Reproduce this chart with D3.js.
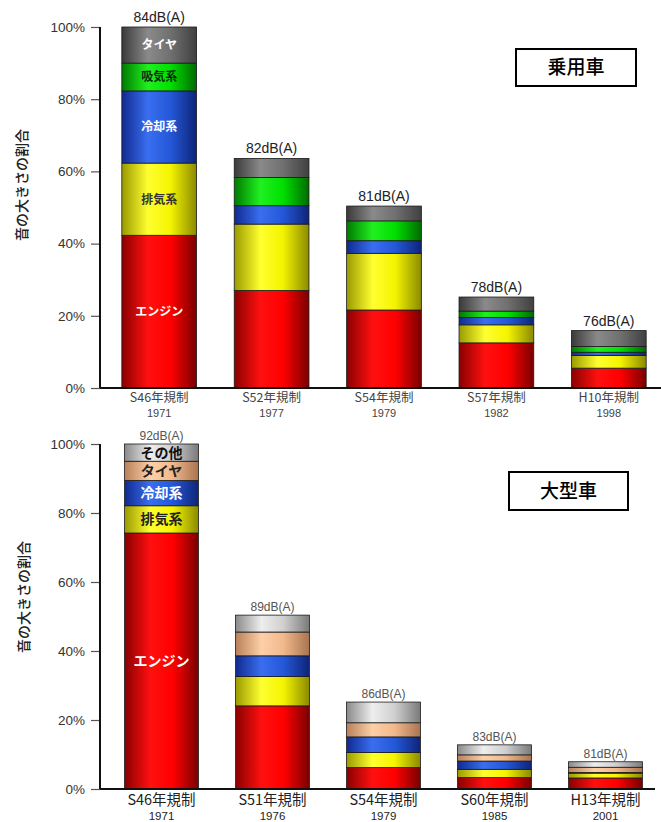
<!DOCTYPE html>
<html><head><meta charset="utf-8">
<script src="https://cdn.jsdelivr.net/npm/d3@7/dist/d3.min.js"></script>
<style>
body{margin:0;background:#fff;}
svg{display:block;font-family:"Liberation Sans",Arial,sans-serif;}
.jp{font-family:"Noto Sans CJK JP","Noto Sans CJK SC",sans-serif;}
</style></head>
<body>
<svg id="c" width="661" height="822"></svg>
<script>
// ---------- data: 乗用車 ----------
const carCategories = ["S46年規制","S52年規制","S54年規制","S57年規制","H10年規制"];
const carYears = ["1971","1977","1979","1982","1998"];
const carDb = ["84dB(A)","82dB(A)","81dB(A)","78dB(A)","76dB(A)"];
const carSeries = ["エンジン","排気系","冷却系","吸気系","タイヤ"];
const carEngine  = [42.3, 27.0, 21.6, 12.5, 5.5];
const carExhaust = [20.0, 18.4, 15.7, 5.0, 3.5];
const carCooling = [20.0, 5.1, 3.5, 2.0, 0.9];
const carIntake  = [7.7, 7.8, 5.5, 1.8, 1.6];
const carTire    = [10.0, 5.3, 4.1, 3.9, 4.4];

// ---------- data: 大型車 ----------
const truckCategories = ["S46年規制","S51年規制","S54年規制","S60年規制","H13年規制"];
const truckYears = ["1971","1976","1979","1985","2001"];
const truckDb = ["92dB(A)","89dB(A)","86dB(A)","83dB(A)","81dB(A)"];
const truckSeries = ["エンジン","排気系","冷却系","タイヤ","その他"];
const truckEngine  = [74.2, 24.1, 6.2, 3.3, 3.2];
const truckExhaust = [7.9, 8.5, 4.4, 2.4, 1.4];
const truckCooling = [7.3, 6.0, 4.5, 2.4, 0.2];
const truckTire    = [5.6, 6.9, 4.1, 1.8, 1.5];
const truckOther   = [5.0, 4.9, 6.0, 2.9, 1.6];

const yTicks = [0, 20, 40, 60, 80, 100];
const yAxisTitle = "音の大きさの割合";

const svg = d3.select("#c");
const defs = svg.append("defs");

// cylinder-like gradients
const palette = {
  red:    ["#8a0000", "#ff1010", "#ff0000", "#7a0000"],
  yellow: ["#9a9a00", "#ffff30", "#f4f400", "#8a8a00"],
  blue:   ["#102a90", "#3a6ef0", "#2458d8", "#0e2478"],
  green:  ["#007a00", "#20f020", "#00e000", "#006a00"],
  dgray:  ["#3a3a3a", "#8a8a8a", "#707070", "#404040"],
  lgray:  ["#8a8a8a", "#eeeeee", "#cfcfcf", "#7a7a7a"],
  tan:    ["#b88058", "#fdd0a8", "#f2b88c", "#a87450"]
};
Object.entries(palette).forEach(([k, c]) => {
  const g = defs.append("linearGradient").attr("id", "g-" + k)
    .attr("x1", "0%").attr("x2", "100%").attr("y1", "0%").attr("y2", "0%");
  g.append("stop").attr("offset", "0%").attr("stop-color", c[0]);
  g.append("stop").attr("offset", "35%").attr("stop-color", c[1]);
  g.append("stop").attr("offset", "65%").attr("stop-color", c[2]);
  g.append("stop").attr("offset", "100%").attr("stop-color", c[3]);
});

function drawChart(cfg) {
  const g = svg.append("g");
  const y = d3.scaleLinear().domain([0, 100]).range([cfg.y0, cfg.y100]);
  const x = d3.scaleBand().domain(cfg.categories).range(cfg.xRange)
    .paddingInner(0.335).paddingOuter(0.1675);

  const rows = cfg.categories.map((c, i) => {
    const r = { cat: c };
    cfg.series.forEach((s, j) => r[s] = cfg.values[j][i]);
    return r;
  });
  const stacked = d3.stack().keys(cfg.series)(rows);

  const ax = g.append("g").attr("transform", `translate(${cfg.axisX},0)`)
    .call(d3.axisLeft(y).tickValues(yTicks).tickFormat(d => d + "%").tickSize(9).tickPadding(6));
  ax.select(".domain").remove();
  ax.selectAll(".tick line").attr("stroke", "#555").attr("stroke-width", 1.2);
  ax.selectAll(".tick text").attr("font-size", 13.5).attr("fill", "#333")
    .attr("font-family", "'Liberation Sans',Arial,sans-serif");

  stacked.forEach((layer, j) => {
    g.append("g").selectAll("rect").data(layer).join("rect")
      .attr("x", d => x(d.data.cat))
      .attr("width", x.bandwidth())
      .attr("y", d => y(d[1]))
      .attr("height", d => Math.max(0, y(d[0]) - y(d[1])))
      .attr("fill", `url(#g-${cfg.colors[j]})`)
      .attr("stroke", "#1a1a1a").attr("stroke-width", 0.8);
  });

  stacked.forEach((layer, j) => {
    const d = layer[0];
    g.append("text").attr("class", "jp")
      .attr("x", x(d.data.cat) + x.bandwidth() / 2)
      .attr("y", (y(d[0]) + y(d[1])) / 2)
      .attr("dy", "0.36em")
      .attr("text-anchor", "middle")
      .attr("font-size", cfg.segFont).attr("font-weight", 700)
      .attr("fill", cfg.labelColors[j])
      .text(cfg.series[j]);
  });

  g.append("g").selectAll("text").data(rows).join("text")
    .attr("x", d => x(d.cat) + x.bandwidth() / 2)
    .attr("y", d => y(d3.sum(cfg.series, s => d[s])) - cfg.dbGap)
    .attr("text-anchor", "middle")
    .attr("font-size", cfg.dbFont).attr("fill", cfg.dbColor)
    .text((d, i) => cfg.db[i]);

  g.append("line").attr("x1", cfg.axisX).attr("x2", cfg.axisX)
    .attr("y1", y(100)).attr("y2", y(0)).attr("stroke", "#111").attr("stroke-width", 2);
  g.append("line").attr("x1", cfg.axisX).attr("x2", cfg.baseEnd)
    .attr("y1", y(0)).attr("y2", y(0)).attr("stroke", "#111").attr("stroke-width", 2);

  g.append("g").selectAll("text").data(cfg.categories).join("text").attr("class", "jp")
    .attr("x", d => x(d) + x.bandwidth() / 2)
    .attr("y", y(0) + cfg.catOff)
    .attr("text-anchor", "middle").attr("font-size", cfg.catFont).attr("fill", cfg.catColor)
    .text(d => d);
  g.append("g").selectAll("text").data(cfg.years).join("text")
    .attr("x", (d, i) => x(cfg.categories[i]) + x.bandwidth() / 2)
    .attr("y", y(0) + cfg.yearOff)
    .attr("text-anchor", "middle").attr("font-size", cfg.yearFont).attr("fill", cfg.catColor)
    .text(d => d);

  g.append("text").attr("class", "jp")
    .attr("transform", `translate(${cfg.titleX},${cfg.titleY}) rotate(-90)`)
    .attr("text-anchor", "middle").attr("dy", "0.35em")
    .attr("font-size", 14).attr("font-weight", 500).attr("fill", "#222")
    .text(yAxisTitle);

  g.append("rect").attr("x", cfg.box[0]).attr("y", cfg.box[1])
    .attr("width", cfg.box[2]).attr("height", cfg.box[3])
    .attr("fill", "#fff").attr("stroke", "#000").attr("stroke-width", 2);
  g.append("text").attr("class", "jp")
    .attr("x", cfg.box[0] + cfg.box[2] / 2).attr("y", cfg.box[1] + cfg.box[3] / 2)
    .attr("dy", "0.36em").attr("text-anchor", "middle")
    .attr("font-size", 19).attr("font-weight", 500).attr("fill", "#000")
    .text(cfg.boxTitle);
}

drawChart({
  categories: carCategories, years: carYears, db: carDb, series: carSeries,
  values: [carEngine, carExhaust, carCooling, carIntake, carTire],
  colors: ["red", "yellow", "blue", "green", "dgray"],
  labelColors: ["#fff", "#333", "#fff", "#0f2a0f", "#fff"],
  y0: 388, y100: 27, xRange: [103, 665], axisX: 100, baseEnd: 661,
  segFont: 12, dbFont: 14, dbColor: "#222", dbGap: 5,
  catFont: 12.5, yearFont: 11, catColor: "#444", catOff: 14, yearOff: 29,
  titleX: 22, titleY: 185, box: [516, 49, 120, 37], boxTitle: "乗用車"
});

drawChart({
  categories: truckCategories, years: truckYears, db: truckDb, series: truckSeries,
  values: [truckEngine, truckExhaust, truckCooling, truckTire, truckOther],
  colors: ["red", "yellow", "blue", "tan", "lgray"],
  labelColors: ["#fff", "#222", "#fff", "#222", "#111"],
  y0: 789, y100: 444, xRange: [106, 661], axisX: 100, baseEnd: 655,
  segFont: 14, dbFont: 12, dbColor: "#555", dbGap: 4,
  catFont: 14.5, yearFont: 11.5, catColor: "#222", catOff: 15.5, yearOff: 30.5,
  titleX: 24, titleY: 597, box: [509, 472, 119, 38], boxTitle: "大型車"
});
</script>
</body></html>
